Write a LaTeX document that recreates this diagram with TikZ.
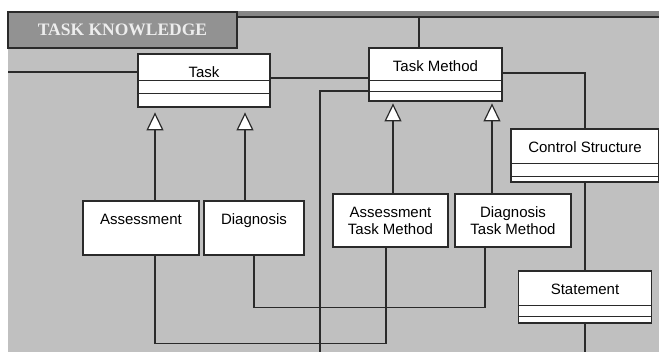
\documentclass[tikz,border=0pt]{standalone}
\usepackage{fontspec}
\setmainfont{Liberation Sans}
\newfontfamily\titlefont{Liberation Serif}
\usetikzlibrary{positioning,arrows.meta}
\definecolor{panelgray}{HTML}{C0C0C0}
\definecolor{titlegray}{HTML}{929292}
\definecolor{stripgray}{HTML}{868686}
\definecolor{linegray}{HTML}{2A2A2A}
\tikzset{
  classbox/.style n args={3}{rectangle, draw=linegray, fill=white, line width=1.2pt,
                  inner sep=0pt, minimum width=#1, minimum height=#2,
                  text height=24pt, text depth=#3,
                  font=\fontsize{15}{17}\selectfont},
  plainbox/.style n args={2}{rectangle, draw=linegray, fill=white, line width=1.2pt,
                  inner sep=0pt, minimum width=#1, minimum height=#2,
                  align=center, font=\fontsize{15}{17}\selectfont},
  link/.style={draw=linegray, line width=1.2pt},
  isa/.style={link, -{Triangle[length=18pt, width=17pt, fill=white]}},
}

\begin{document}
\begin{tikzpicture}[x=1pt, y=-1pt]
\useasboundingbox (0,0) rectangle (659,352);
%Frame
\fill[panelgray] (8,11) rectangle (659,352);
\fill[stripgray] (237,11) rectangle (659,16);
\draw[link] (237,17) -- (659,17);
\node[rectangle, draw=linegray, fill=titlegray, line width=1.2pt, minimum width=229, minimum height=36,
      font=\titlefont\bfseries\fontsize{17.5}{20}\selectfont, text=white!93!black] (title) at (122.5,30) {TASK KNOWLEDGE};

%Nodes
\node[classbox={132}{53}{29pt}] (task) at (204,80.5) {Task};
\node[classbox={133}{53}{29pt}] (method) at (435.5,74.5) {Task Method};
\node[classbox={148}{53}{29pt}] (control) at (585,155.5) {Control Structure};
\node[classbox={133}{52}{28pt}] (statement) at (585,297) {Statement};
\node[classbox={116}{54}{30pt}] (assess) at (141,228) {Assessment};
\node[classbox={100}{54}{30pt}] (diag) at (254,228) {Diagnosis};
\node[plainbox={115}{53}] (assessmethod) at (390.5,220.5) {Assessment\\Task Method};
\node[plainbox={116}{53}] (diagmethod) at (513,220.5) {Diagnosis\\Task Method};

\foreach \n/\a/\b in {task/27/40, method/33/44, control/35/48, statement/35/46}{
  \draw[link] ([yshift=-\a]\n.north west) -- ([yshift=-\a]\n.north east);
  \draw[link] ([yshift=-\b]\n.north west) -- ([yshift=-\b]\n.north east);
}

\coordinate (leftin) at (8,72);
\coordinate (topin) at (419,17);
\coordinate (bottomleft) at (320,352);
\coordinate (bottomright) at (585,352);

%Lines
\draw[link] (leftin) -- (leftin -| task.west);
\draw[link] (topin) -- (topin |- method.north);
\draw[link] ([yshift=2.5]task.east) -- ([yshift=2.5]task.east -| method.west);
\draw[link] ([yshift=1.5]method.east) -| (control.north);
\draw[link] ([yshift=-16.5]method.west) -| (bottomleft);
\draw[link] (control.south) -- (statement.north);
\draw[link] (statement.south) -- (bottomright);
\draw[link] ([xshift=14]assess.south) -- ++(0,88) -| ([xshift=-4.5]assessmethod.south);
\draw[link] (diag.south) -- ++(0,52) -| ([xshift=-28]diagmethod.south);
\draw[isa] ([xshift=14]assess.north) -- ++(0,-88);
\draw[isa] ([xshift=-9]diag.north) -- ++(0,-88);
\draw[isa] ([xshift=2.5]assessmethod.north) -- ++(0,-90);
\draw[isa] ([xshift=-21]diagmethod.north) -- ++(0,-90);
\end{tikzpicture}
\end{document}
